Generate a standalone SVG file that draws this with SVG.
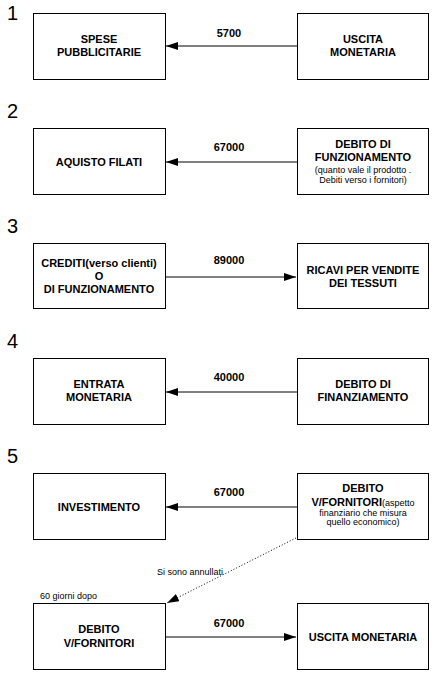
<svg xmlns="http://www.w3.org/2000/svg" width="435" height="675" viewBox="0 0 435 675">
<style>
.box{fill:#fff;stroke:#000;stroke-width:1}
.t{font-family:"Liberation Sans",Arial,sans-serif;font-size:11px;font-weight:bold;text-anchor:middle;fill:#000}
.s{font-family:"Liberation Sans",Arial,sans-serif;font-size:9px;font-weight:normal;fill:#000}
.sm{text-anchor:middle}
.num{font-family:"Liberation Sans",Arial,sans-serif;font-size:20px;fill:#000}
.ln{stroke:#000;stroke-width:1;fill:none}
.dot{stroke:#000;stroke-width:1;fill:none;stroke-dasharray:1 2}
</style>
<defs>
<marker id="ah" markerUnits="userSpaceOnUse" markerWidth="13" markerHeight="8" refX="12" refY="4" orient="auto">
<polygon points="0,0 12,4 0,8" fill="#000"/>
</marker>
</defs>
<rect width="435" height="675" fill="#fff"/>
<g id="numbers">
<text class="num" x="7" y="20">1</text>
<text class="num" x="7" y="118">2</text>
<text class="num" x="7" y="233">3</text>
<text class="num" x="7" y="348">4</text>
<text class="num" x="7" y="463">5</text>
</g>
<g id="connectors">
<line class="ln" x1="297" y1="46" x2="166" y2="46" marker-end="url(#ah)"/>
<line class="ln" x1="297" y1="162" x2="166" y2="162" marker-end="url(#ah)"/>
<line class="ln" x1="165" y1="277" x2="296" y2="277" marker-end="url(#ah)"/>
<line class="ln" x1="297" y1="392" x2="166" y2="392" marker-end="url(#ah)"/>
<line class="ln" x1="297" y1="507" x2="166" y2="507" marker-end="url(#ah)"/>
<line class="ln" x1="165" y1="637" x2="296" y2="637" marker-end="url(#ah)"/>
<line class="dot" x1="296" y1="538" x2="167" y2="603" marker-end="url(#ah)"/>
<text class="t" x="229" y="37">5700</text>
<text class="t" x="229" y="151">67000</text>
<text class="t" x="229" y="264">89000</text>
<text class="t" x="229" y="381">40000</text>
<text class="t" x="229" y="496">67000</text>
<text class="t" x="229" y="627">67000</text>
<text class="s" x="157" y="575">Si sono annullati</text>
<text class="s" x="40" y="599">60 giorni dopo</text>
</g>
<g id="n1a"><rect class="box" x="33.5" y="13.5" width="132" height="66"/>
<text class="t" x="99" y="43">SPESE</text><text class="t" x="99" y="56">PUBBLICITARIE</text></g>
<g id="n1b"><rect class="box" x="297.5" y="13.5" width="131" height="66"/>
<text class="t" x="363" y="43">USCITA</text><text class="t" x="363" y="56">MONETARIA</text></g>
<g id="n2a"><rect class="box" x="33.5" y="128.5" width="132" height="66"/>
<text class="t" x="99" y="166">AQUISTO FILATI</text></g>
<g id="n2b"><rect class="box" x="297.5" y="128.5" width="131" height="66"/>
<text class="t" x="363" y="148">DEBITO DI</text><text class="t" x="363" y="161">FUNZIONAMENTO</text>
<text class="s sm" x="363" y="173">(quanto vale il prodotto .</text><text class="s sm" x="363" y="183">Debiti verso i fornitori)</text></g>
<g id="n3a"><rect class="box" x="33.5" y="243.5" width="132" height="65"/>
<text class="t" x="99" y="267">CREDITI(verso clienti)</text><text class="t" x="99" y="280">O</text><text class="t" x="99" y="293">DI FUNZIONAMENTO</text></g>
<g id="n3b"><rect class="box" x="297.5" y="243.5" width="131" height="65"/>
<text class="t" x="363" y="274">RICAVI PER VENDITE</text><text class="t" x="363" y="287">DEI TESSUTI</text></g>
<g id="n4a"><rect class="box" x="33.5" y="358.5" width="132" height="66"/>
<text class="t" x="99" y="388">ENTRATA</text><text class="t" x="99" y="401">MONETARIA</text></g>
<g id="n4b"><rect class="box" x="297.5" y="358.5" width="131" height="66"/>
<text class="t" x="363" y="388">DEBITO DI</text><text class="t" x="363" y="401">FINANZIAMENTO</text></g>
<g id="n5a"><rect class="box" x="33.5" y="473.5" width="132" height="66"/>
<text class="t" x="99" y="511">INVESTIMENTO</text></g>
<g id="n5b"><rect class="box" x="297.5" y="473.5" width="131" height="66"/>
<text class="t" x="363" y="492">DEBITO</text>
<text class="t" x="363" y="506">V/FORNITORI<tspan class="s">(aspetto</tspan></text>
<text class="s sm" x="363" y="516">finanziario che misura</text><text class="s sm" x="363" y="525">quello economico)</text></g>
<g id="n6a"><rect class="box" x="33.5" y="603.5" width="132" height="66"/>
<text class="t" x="99" y="633">DEBITO</text><text class="t" x="99" y="647">V/FORNITORI</text></g>
<g id="n6b"><rect class="box" x="297.5" y="603.5" width="131" height="66"/>
<text class="t" x="363" y="641">USCITA MONETARIA</text></g>
</svg>
